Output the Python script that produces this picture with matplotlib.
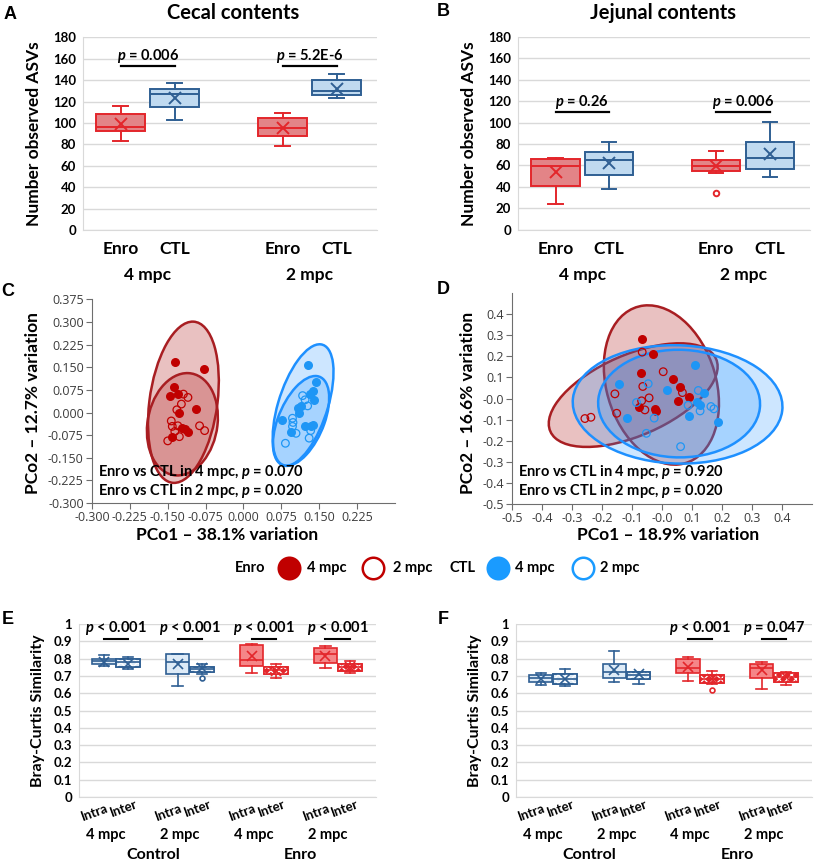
import numpy as np
import matplotlib
matplotlib.use('Agg')
import matplotlib.pyplot as plt
from matplotlib.patches import Ellipse, PathPatch
from matplotlib.lines import Line2D
from matplotlib.colors import to_rgba

W, H = 817, 863

plt.rcParams['font.family'] = ['Lato', 'DejaVu Sans']
plt.rcParams['font.weight'] = 'bold'
plt.rcParams['axes.unicode_minus'] = False
plt.rcParams['mathtext.fontset'] = 'custom'
plt.rcParams['mathtext.it'] = 'Lato:italic:bold'
plt.rcParams['mathtext.rm'] = 'Lato:bold'
plt.rcParams['hatch.linewidth'] = 0.9

# ---------------- data ----------------
# A / B : observed ASVs, box order Enro 4mpc, CTL 4mpc, Enro 2mpc, CTL 2mpc
asv_groups = ['Enro', 'CTL', 'Enro', 'CTL']
asv_timepoints = ['4 mpc', '2 mpc']

cecal_whislo = [82.8, 102.7, 78.5, 123.3]
cecal_q1 = [92.2, 114.6, 87.8, 125.8]
cecal_med = [96.5, 126.7, 95.0, 130.1]
cecal_q3 = [108.3, 131.7, 104.3, 140.1]
cecal_whishi = [115.5, 137.3, 109.3, 145.4]
cecal_mean = [98.7, 123.6, 95.6, 131.4]
cecal_fliers = [[], [], [], []]
cecal_pvals = ['$p$ = 0.006', '$p$ = 5.2E-6']

jejunal_whislo = [24.3, 38.3, 52.6, 49.4]
jejunal_q1 = [40.8, 51.3, 55.1, 56.9]
jejunal_med = [59.7, 64.7, 59.7, 66.6]
jejunal_q3 = [65.7, 72.5, 64.7, 81.5]
jejunal_whishi = [66.9, 82.1, 73.4, 100.2]
jejunal_mean = [53.8, 61.9, 59.4, 70.3]
jejunal_fliers = [[], [], [34.5], []]
jejunal_pvals = ['$p$ = 0.26', '$p$ = 0.006']

# C : PCoA cecal
c_enro4_x = [-0.136, -0.079, -0.138, -0.146, -0.130, -0.127, -0.094, -0.122, -0.116, -0.109, -0.141]
c_enro4_y = [0.168, 0.144, 0.084, 0.056, 0.061, 0.000, 0.013, -0.053, -0.055, -0.064, -0.080]
c_enro2_x = [-0.119, -0.110, -0.123, -0.132, -0.143, -0.141, -0.130, -0.150, -0.127, -0.087, -0.077, -0.136]
c_enro2_y = [0.061, 0.050, 0.028, 0.009, -0.028, -0.046, -0.044, -0.094, -0.080, -0.044, -0.060, -0.063]
c_ctl4_x = [0.128, 0.144, 0.137, 0.131, 0.139, 0.114, 0.108, 0.110, 0.077, 0.094, 0.122, 0.133, 0.137]
c_ctl4_y = [0.158, 0.101, 0.070, 0.063, 0.042, 0.020, 0.014, -0.002, -0.024, -0.066, -0.044, -0.044, -0.041]
c_ctl2_x = [0.117, 0.122, 0.127, 0.097, 0.098, 0.097, 0.104, 0.083, 0.133, 0.130]
c_ctl2_y = [0.056, 0.042, 0.022, -0.019, -0.033, -0.046, -0.069, -0.102, -0.060, -0.085]
# ellipses: centre x, centre y, width, height, angle (data space)
c_ell_enro = [(-0.119, 0.034, 0.135, 0.536, -4.2), (-0.121, -0.039, 0.139, 0.340, -3.9)]
c_ell_ctl = [(0.118, 0.025, 0.100, 0.408, -9.8), (0.114, -0.028, 0.094, 0.304, -11.9)]
c_pvals = ['Enro vs CTL in 4 mpc, $p$ = 0.070', 'Enro vs CTL in 2 mpc, $p$ = 0.020']

# D : PCoA jejunal
d_enro4_x = [-0.065, -0.029, -0.070, 0.038, 0.059, 0.090, 0.055, -0.076, -0.023, -0.021]
d_enro4_y = [0.282, 0.212, 0.120, 0.092, 0.054, 0.008, -0.011, -0.041, -0.049, -0.059]
d_enro2_x = [-0.066, 0.004, -0.064, -0.157, -0.068, -0.043, -0.057, -0.151, -0.257, -0.237, 0.068]
d_enro2_y = [0.220, 0.127, 0.057, 0.022, -0.011, 0.003, -0.054, -0.070, -0.095, -0.089, 0.028]
d_ctl4_x = [-0.143, 0.110, 0.018, 0.139, 0.117, 0.126, 0.090, 0.186, -0.115]
d_ctl4_y = [0.068, 0.160, 0.040, 0.028, -0.016, -0.032, -0.085, -0.112, -0.093]
d_ctl2_x = [-0.046, -0.085, -0.026, -0.052, 0.062, 0.087, 0.121, 0.127, 0.163, 0.173]
d_ctl2_y = [0.070, -0.019, -0.093, -0.165, -0.228, -0.032, 0.038, -0.059, -0.038, -0.049]
d_ell_enro = [(-0.002, 0.064, 0.370, 0.762, 8.8), (-0.096, 0.016, 0.660, 0.350, 38.0)]
d_ell_ctl = [(0.052, -0.028, 0.700, 0.560, -5.0), (0.057, -0.024, 0.540, 0.510, -5.0)]
d_pvals = ['Enro vs CTL in 4 mpc, $p$ = 0.920', 'Enro vs CTL in 2 mpc, $p$ = 0.020']

# E / F : Bray-Curtis similarity, box order
# Control 4mpc Intra, Inter, Control 2mpc Intra, Inter, Enro 4mpc Intra, Inter, Enro 2mpc Intra, Inter
bc_timepoints = ['4 mpc', '2 mpc', '4 mpc', '2 mpc']
bc_treatments = ['Control', 'Enro']
bc_kinds = ['Intra', 'Inter']

e_whislo = [0.759, 0.738, 0.644, 0.709, 0.717, 0.690, 0.744, 0.715]
e_q1 = [0.767, 0.753, 0.709, 0.721, 0.757, 0.713, 0.776, 0.728]
e_med = [0.786, 0.778, 0.782, 0.738, 0.792, 0.733, 0.825, 0.753]
e_q3 = [0.798, 0.800, 0.826, 0.750, 0.879, 0.750, 0.859, 0.769]
e_whishi = [0.821, 0.811, 0.826, 0.769, 0.884, 0.769, 0.873, 0.788]
e_mean = [0.782, 0.769, 0.767, 0.744, 0.817, 0.730, 0.817, 0.750]
e_fliers = [[], [], [], [0.690], [], [], [], []]
e_pvals = ['$p$ < 0.001', '$p$ < 0.001', '$p$ < 0.001', '$p$ < 0.001']

f_whislo = [0.650, 0.641, 0.666, 0.654, 0.670, 0.656, 0.627, 0.647]
f_q1 = [0.664, 0.654, 0.689, 0.680, 0.718, 0.660, 0.685, 0.664]
f_med = [0.687, 0.680, 0.722, 0.707, 0.744, 0.680, 0.746, 0.695]
f_q3 = [0.705, 0.711, 0.771, 0.720, 0.800, 0.703, 0.767, 0.715]
f_whishi = [0.718, 0.738, 0.845, 0.724, 0.810, 0.726, 0.781, 0.724]
f_mean = [0.683, 0.683, 0.734, 0.711, 0.751, 0.683, 0.732, 0.693]
f_fliers = [[], [], [], [], [], [0.617], [], []]
f_pvals = [None, None, '$p$ < 0.001', '$p$ = 0.047']

# ---------------- style ----------------
RED_EDGE, RED_FACE = '#E3262B', '#E38487'
BLUE_EDGE, BLUE_FACE = '#2F5F93', '#C0DAF0'
RED_INTRA, BLUE_INTRA = '#F58688', '#DEEBF7'
GRID = '#D9D9D9'
PT_RED, PT_BLUE = '#C00000', '#1E96F5'
ELL_RED, ELL_BLUE = '#A81E22', '#1E90FF'

fig = plt.figure(figsize=(W / 100, H / 100), dpi=100)


def axes_px(left, top, right, bottom):
    return fig.add_axes([left / W, 1 - bottom / H, (right - left) / W, (bottom - top) / H])


def fig_text(xp, yp, s, **kw):
    fig.text(xp / W, 1 - yp / H, s, **kw)


def draw_boxes(ax, positions, width, capw, lo, q1, med, q3, hi, mean, fliers,
               faces, edges, hatched, lw=1.3, msize=8):
    stats = [dict(whislo=lo[i], q1=q1[i], med=med[i], q3=q3[i], whishi=hi[i],
                  mean=mean[i], fliers=fliers[i]) for i in range(len(positions))]
    bp = ax.bxp(stats, positions=positions, widths=width, capwidths=capw,
                patch_artist=True, showmeans=True, showfliers=True, manage_ticks=False)
    for i, box in enumerate(bp['boxes']):
        box.set(facecolor=faces[i], edgecolor=edges[i], linewidth=lw, zorder=2)
        if hatched[i]:
            ax.add_patch(PathPatch(box.get_path(), facecolor='none', edgecolor='white',
                                   hatch='xxxx', linewidth=0, zorder=2.1))
            ax.add_patch(PathPatch(box.get_path(), facecolor='none', edgecolor=edges[i],
                                   linewidth=lw, zorder=2.2))
        for line in bp['whiskers'][2 * i:2 * i + 2] + bp['caps'][2 * i:2 * i + 2]:
            line.set(color=edges[i], linewidth=lw)
        bp['medians'][i].set(color=edges[i], linewidth=lw, zorder=3)
        bp['means'][i].set(marker='x', markeredgecolor=edges[i], markersize=msize,
                           markeredgewidth=lw, zorder=3)
        bp['fliers'][i].set(marker='o', markerfacecolor='white', markeredgecolor=edges[i],
                            markersize=msize * 0.5, markeredgewidth=lw)


def excel_axes(ax, ylim, yticks, ylabels, ysize):
    ax.set_ylim(*ylim)
    ax.set_yticks(yticks)
    ax.set_yticklabels(ylabels, fontsize=ysize, fontweight='bold')
    ax.yaxis.grid(True, color=GRID, linewidth=1)
    ax.set_axisbelow(True)
    for s in ['top', 'right']:
        ax.spines[s].set_visible(False)
    for s in ['left', 'bottom']:
        ax.spines[s].set_color(GRID)
    ax.tick_params(length=0, pad=5)


# ---------------- A & B ----------------
asv_pos = [1, 2, 4, 5]
asv_faces = [RED_FACE, BLUE_FACE, RED_FACE, BLUE_FACE]
asv_edges = [RED_EDGE, BLUE_EDGE, RED_EDGE, BLUE_EDGE]

ax_a = axes_px(83, 37.3, 377, 230)
ax_b = axes_px(518, 37, 810, 229.7)
panels_ab = [
    (ax_a, cecal_whislo, cecal_q1, cecal_med, cecal_q3, cecal_whishi, cecal_mean, cecal_fliers, cecal_pvals, 153),
    (ax_b, jejunal_whislo, jejunal_q1, jejunal_med, jejunal_q3, jejunal_whishi, jejunal_mean, jejunal_fliers, jejunal_pvals, 110),
]
for ax, lo, q1, med, q3, hi, mean, fl, pv, bar_y in panels_ab:
    draw_boxes(ax, asv_pos, 0.9, 0.27, lo, q1, med, q3, hi, mean, fl,
               asv_faces, asv_edges, [False] * 4, lw=1.4, msize=8)
    excel_axes(ax, (0, 180), np.arange(0, 181, 20), [str(v) for v in range(0, 181, 20)], 9.5)
    ax.set_xlim(0.3, 5.75)
    ax.set_xticks(asv_pos)
    ax.set_xticklabels(asv_groups, fontsize=12.5, fontweight='bold')
    ax.tick_params(axis='x', pad=8)
    ax.set_ylabel('Number observed ASVs', fontsize=12.5, fontweight='bold', labelpad=8)
    for k in range(2):
        x1, x2 = asv_pos[2 * k], asv_pos[2 * k + 1]
        ax.plot([x1, x2], [bar_y, bar_y], color='black', lw=1.6, clip_on=False, zorder=4)
        ax.text((x1 + x2) / 2, bar_y + 9.5, pv[k], ha='center', va='center', fontsize=10.5)
        ax.text((x1 + x2) / 2, -0.233, asv_timepoints[k], transform=ax.get_xaxis_transform(),
                ha='center', va='center', fontsize=12.5, fontweight='bold')

fig_text(233, 13, 'Cecal contents', ha='center', va='center', fontsize=14.5, fontweight='bold')
fig_text(663, 13, 'Jejunal contents', ha='center', va='center', fontsize=14.5, fontweight='bold')

# ---------------- C & D ----------------
ax_c = axes_px(92, 299.4, 395, 503)
ax_d = axes_px(512, 293, 812, 504)
panels_cd = [
    (ax_c, c_enro4_x, c_enro4_y, c_enro2_x, c_enro2_y, c_ctl4_x, c_ctl4_y, c_ctl2_x, c_ctl2_y,
     c_ell_enro, c_ell_ctl, c_pvals),
    (ax_d, d_enro4_x, d_enro4_y, d_enro2_x, d_enro2_y, d_ctl4_x, d_ctl4_y, d_ctl2_x, d_ctl2_y,
     d_ell_enro, d_ell_ctl, d_pvals),
]
for ax, e4x, e4y, e2x, e2y, c4x, c4y, c2x, c2y, ell_e, ell_c, pv in panels_cd:
    for ells, fc, ec, a in [(ell_e, '#B22222', ELL_RED, 0.28), (ell_c, ELL_BLUE, ELL_BLUE, 0.22)]:
        for cx, cy, w, h, ang in ells:
            ax.add_patch(Ellipse((cx, cy), w, h, angle=ang, facecolor=to_rgba(fc, a),
                                 edgecolor=ec, linewidth=1.8, zorder=1))
    ax.scatter(e4x, e4y, s=30, color=PT_RED, edgecolors=PT_RED, zorder=3)
    ax.scatter(e2x, e2y, s=30, facecolors='none', edgecolors=PT_RED, linewidths=0.9, zorder=3)
    ax.scatter(c4x, c4y, s=30, color=PT_BLUE, edgecolors=PT_BLUE, zorder=3)
    ax.scatter(c2x, c2y, s=30, facecolors='none', edgecolors=PT_BLUE, linewidths=0.9, zorder=3)
    for s in ['top', 'right']:
        ax.spines[s].set_visible(False)
    for s in ['left', 'bottom']:
        ax.spines[s].set_color('#6E6E6E')
    ax.tick_params(direction='out', length=4, color='#6E6E6E', pad=2,
                   labelsize=9, labelcolor='#3C3C3C')
    ax.text(0.02, 0.152, pv[0], transform=ax.transAxes, ha='left', va='center', fontsize=10.5)
    ax.text(0.02, 0.060, pv[1], transform=ax.transAxes, ha='left', va='center', fontsize=10.5)

ax_c.set_xlim(-0.3, 0.3)
ax_c.set_ylim(-0.3, 0.375)
c_xt = np.round(np.arange(-0.3, 0.226, 0.075), 3)
c_yt = np.round(np.arange(-0.3, 0.376, 0.075), 3)
ax_c.set_xticks(c_xt)
ax_c.set_yticks(c_yt)
ax_c.set_xticklabels(['%.3f' % v for v in c_xt])
ax_c.set_yticklabels(['%.3f' % v for v in c_yt])

ax_d.set_xlim(-0.5, 0.5)
ax_d.set_ylim(-0.5, 0.5)
d_t = np.round(np.arange(-0.5, 0.41, 0.1), 1)
ax_d.set_xticks(d_t)
ax_d.set_yticks(d_t)
ax_d.set_xticklabels(['%.1f' % v for v in d_t])
ax_d.set_yticklabels(['%.1f' % v for v in d_t])

for ax in (ax_c, ax_d):
    for t in ax.get_xticklabels() + ax.get_yticklabels():
        t.set_fontfamily(['Open Sans', 'DejaVu Sans'])
        t.set_fontweight('normal')

fig_text(227, 535, 'PCo1 \u2013 38.1% variation', ha='center', va='center', fontsize=12.5)
fig_text(33, 403, 'PCo2 \u2013 12.7% variation', ha='center', va='center', fontsize=12.5, rotation=90)
fig_text(668, 535, 'PCo1 \u2013 18.9% variation', ha='center', va='center', fontsize=12.5)
fig_text(468, 403, 'PCo2 \u2013 16.6% variation', ha='center', va='center', fontsize=12.5, rotation=90)

# legend row
LEG_Y = 568


def legend_marker(xp, color, filled):
    fig.add_artist(Line2D([xp / W], [1 - LEG_Y / H], transform=fig.transFigure, marker='o',
                          markersize=15.5, linestyle='none',
                          markerfacecolor=color if filled else 'white',
                          markeredgecolor=color, markeredgewidth=1.8))


fig_text(250, LEG_Y, 'Enro', ha='center', va='center', fontsize=10.5)
legend_marker(289, PT_RED, True)
fig_text(307, LEG_Y, '4 mpc', ha='left', va='center', fontsize=10.5)
legend_marker(373, PT_RED, False)
fig_text(393, LEG_Y, '2 mpc', ha='left', va='center', fontsize=10.5)
fig_text(463, LEG_Y, 'CTL', ha='center', va='center', fontsize=10.5)
legend_marker(498, '#1A9BFF', True)
fig_text(515, LEG_Y, '4 mpc', ha='left', va='center', fontsize=10.5)
legend_marker(583, '#1A9BFF', False)
fig_text(600, LEG_Y, '2 mpc', ha='left', va='center', fontsize=10.5)

# ---------------- E & F ----------------
groups = np.arange(1, 5)
bc_pos = []
for g in groups:
    bc_pos += [g - 0.165, g + 0.165]
bc_faces = [BLUE_INTRA, BLUE_INTRA, BLUE_INTRA, BLUE_INTRA, RED_INTRA, RED_EDGE, RED_INTRA, RED_EDGE]
bc_edges = [BLUE_EDGE] * 4 + [RED_EDGE] * 4
bc_hatch = [False, True] * 4

ax_e = axes_px(79, 624, 376, 797)
ax_f = axes_px(516, 624, 812, 797)
panels_ef = [
    (ax_e, e_whislo, e_q1, e_med, e_q3, e_whishi, e_mean, e_fliers, e_pvals),
    (ax_f, f_whislo, f_q1, f_med, f_q3, f_whishi, f_mean, f_fliers, f_pvals),
]
bc_ticks = np.round(np.arange(0, 1.01, 0.1), 1)
bc_ticklabels = ['0'] + ['%.1f' % v for v in bc_ticks[1:-1]] + ['1']
for ax, lo, q1, med, q3, hi, mean, fl, pv in panels_ef:
    draw_boxes(ax, bc_pos, 0.32, 0.14, lo, q1, med, q3, hi, mean, fl,
               bc_faces, bc_edges, bc_hatch, lw=1.2, msize=7)
    excel_axes(ax, (0, 1), bc_ticks, bc_ticklabels, 9.5)
    ax.set_xlim(0.5, 4.52)
    ax.set_xticks([])
    ax.set_ylabel('Bray-Curtis Similarity', fontsize=11.5, fontweight='bold', labelpad=6)
    xt = ax.get_xaxis_transform()
    for i, g in enumerate(groups):
        x1, x2 = g - 0.165, g + 0.165
        ax.text(x1 + 0.03, -0.03, bc_kinds[0], transform=xt, rotation=20, rotation_mode='anchor',
                ha='right', va='top', fontsize=9.5)
        ax.text(x2 + 0.09, -0.003, bc_kinds[1], transform=xt, rotation=20, rotation_mode='anchor',
                ha='right', va='top', fontsize=9.5)
        ax.text(x1 + 0.03, -0.22, bc_timepoints[i], transform=xt, ha='center', va='center',
                fontsize=10.5)
        if pv[i] is not None:
            ax.plot([x1, x2], [0.913, 0.913], color='black', lw=1.5, clip_on=False, zorder=4)
            ax.text(g, 0.977, pv[i], ha='center', va='center', fontsize=10.5, clip_on=False)
    for k, tname in enumerate(bc_treatments):
        ax.text(1.5 + 2 * k, -0.335, tname, transform=xt, ha='center', va='center', fontsize=11.5)

# panel letters
for lab, xp, yp in [('A', 10, 14.5), ('B', 443, 12), ('C', 8, 291.5), ('D', 443, 290),
                    ('E', 8, 620), ('F', 443, 619.5)]:
    fig_text(xp, yp, lab, ha='center', va='center', fontsize=13, fontweight='bold',
             family=['Liberation Sans', 'DejaVu Sans'])

fig.savefig('out.png', dpi=100)
